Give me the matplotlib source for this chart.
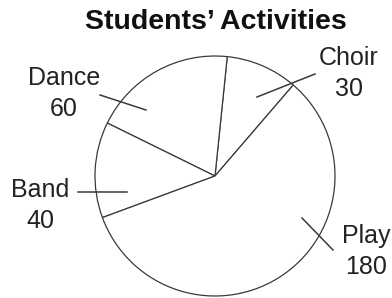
import matplotlib
matplotlib.use('Agg')
import matplotlib.pyplot as plt

# Data
activities = ['Choir', 'Dance', 'Band', 'Play']
students = [30, 60, 40, 180]

# Figure setup (pixel-like coordinates, y up)
W, H = 392, 298
fig = plt.figure(figsize=(W / 100, H / 100), dpi=100)
ax = fig.add_axes([0, 0, 1, 1])

line_col = '#3a3a3a'
plt.rcParams['font.family'] = ['Liberation Sans', 'DejaVu Sans']

# Pie, counterclockwise from the Choir/Play boundary
ax.pie(students, startangle=49.3, counterclock=True, center=(215, H - 176),
       radius=120, colors=['white'] * len(students),
       wedgeprops=dict(edgecolor=line_col, linewidth=0.9), frame=True)
ax.set_xlim(0, W)
ax.set_ylim(0, H)
ax.set_aspect('equal')
ax.axis('off')

# Label placement (baseline of name, pixel coords from top) and leader lines
label_pos = [(349, 65), (64, 85), (40, 197), (366, 243)]
leaders = [((257, 97), (315, 74)),
           ((100, 95), (146, 110)),
           ((78, 192), (127, 192)),
           ((302, 218), (333, 250))]

for name, val, (x, y), (p0, p1) in zip(activities, students, label_pos, leaders):
    ax.text(x, H - y, name, ha='center', va='baseline', fontsize=18, color='#222222')
    ax.text(x, H - y - 31, str(val), ha='center', va='baseline', fontsize=18, color='#222222')
    ax.plot([p0[0], p1[0]], [H - p0[1], H - p1[1]], color=line_col, lw=1.1)

ax.text(216, H - 29, "Students\u2019 Activities", ha='center', va='baseline',
        fontsize=20.5, fontweight='bold', color='#111111')

fig.savefig('out.png', dpi=100)
